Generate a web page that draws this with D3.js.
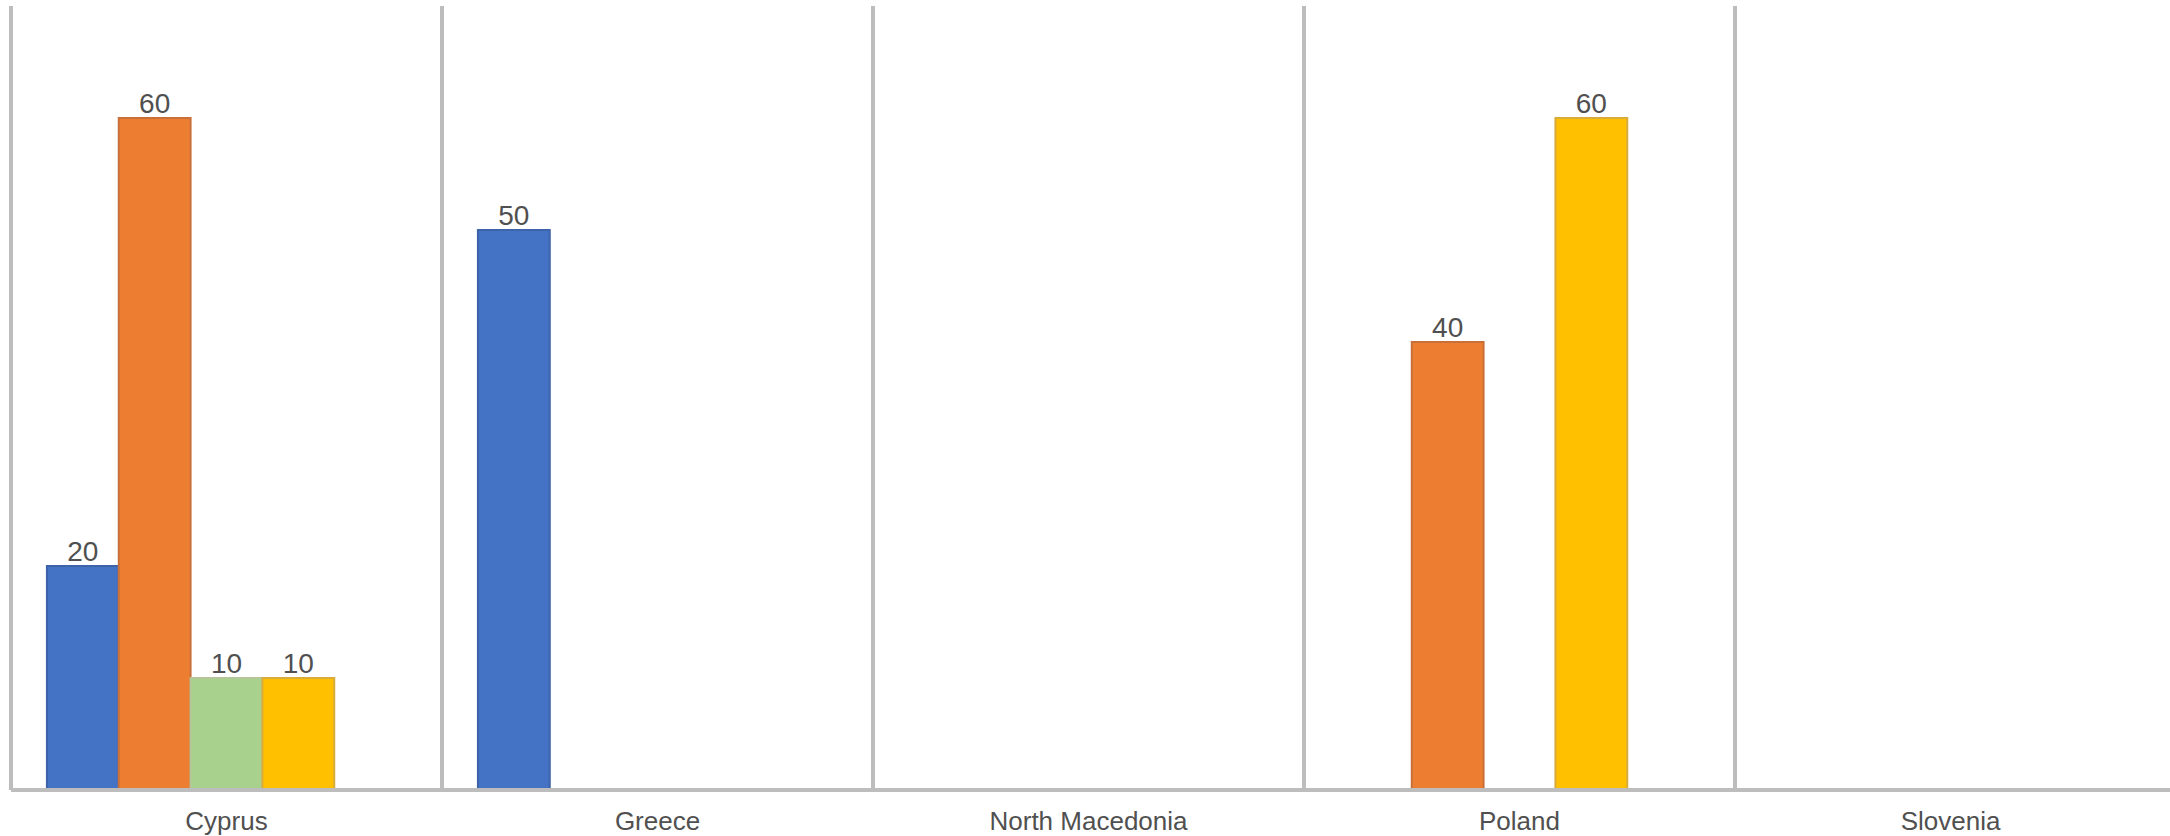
<!DOCTYPE html>
<html>
<head>
<meta charset="utf-8">
<script src="https://cdn.jsdelivr.net/npm/d3@7"></script>
<style>
  html, body { margin: 0; padding: 0; background: #ffffff; }
  svg { display: block; }
</style>
</head>
<body>
<svg id="chart" width="2170" height="836"></svg>
<script>
const categories = ["Cyprus", "Greece", "North Macedonia", "Poland", "Slovenia"];
const seriesNames = ["Series 1", "Series 2", "Series 3", "Series 4", "Series 5"];
const series1 = [20, 50, null, null, null];
const series2 = [60, null, null, 40, null];
const series3 = [10, null, null, null, null];
const series4 = [10, null, null, 60, null];
const series5 = [null, null, null, null, null];
const seriesColors = ["#4472C4", "#ED7D31", "#A9D18E", "#FFC000", "#5B9BD5"];
const seriesStrokes = ["#3d63a8", "#c9703a", "#b5c79a", "#d9ab3a", "#4f86b8"];
const yDomain = [0, 70];

const allSeries = [series1, series2, series3, series4, series5];

(function () {
const svg = d3.select("#chart");
const mLeft = 11, mRight = 2166, mTop = 6, mBottom = 790;

const x0 = d3.scaleBand().domain(categories).range([mLeft, mRight]).padding(0);
const x1 = d3.scaleBand().domain(seriesNames).range([0, x0.bandwidth()])
  .paddingInner(0).paddingOuter(0.5);
const y = d3.scaleLinear().domain(yDomain).range([mBottom, mTop]);

// vertical category separators
svg.append("g").selectAll("line").data(categories).join("line")
  .attr("x1", d => x0(d)).attr("x2", d => x0(d))
  .attr("y1", mTop).attr("y2", mBottom)
  .attr("stroke", "#bdbdbd").attr("stroke-width", 4);

// bars
const data = [];
categories.forEach((c, ci) => {
  seriesNames.forEach((s, si) => {
    const v = allSeries[si][ci];
    if (v !== null && v !== undefined) data.push({c, s, si, v});
  });
});

svg.append("g").selectAll("rect").data(data).join("rect")
  .attr("x", d => x0(d.c) + x1(d.s))
  .attr("y", d => y(d.v))
  .attr("width", x1.bandwidth())
  .attr("height", d => y(0) - y(d.v))
  .attr("fill", d => seriesColors[d.si])
  .attr("stroke", d => seriesStrokes[d.si])
  .attr("stroke-width", 2);

// baseline
svg.append("line")
  .attr("x1", mLeft).attr("x2", 2170)
  .attr("y1", mBottom).attr("y2", mBottom)
  .attr("stroke", "#bdbdbd").attr("stroke-width", 4);

// data labels
svg.append("g").selectAll("text").data(data).join("text")
  .attr("x", d => x0(d.c) + x1(d.s) + x1.bandwidth() / 2)
  .attr("y", d => y(d.v) - 5)
  .attr("text-anchor", "middle")
  .attr("font-family", "'Liberation Sans', Arial, sans-serif")
  .attr("font-size", 28)
  .attr("fill", "#505050")
  .text(d => d.v);

// category axis labels
const xAxis = d3.axisBottom(x0).tickSize(0).tickPadding(0);
const ax = svg.append("g").attr("transform", "translate(0, 830)").call(xAxis);
ax.select(".domain").remove();
ax.selectAll("text")
  .attr("dy", 0)
  .attr("y", 0)
  .attr("font-family", "'Liberation Sans', Arial, sans-serif")
  .attr("font-size", 26)
  .attr("fill", "#505050");
})();
</script>
</body>
</html>
